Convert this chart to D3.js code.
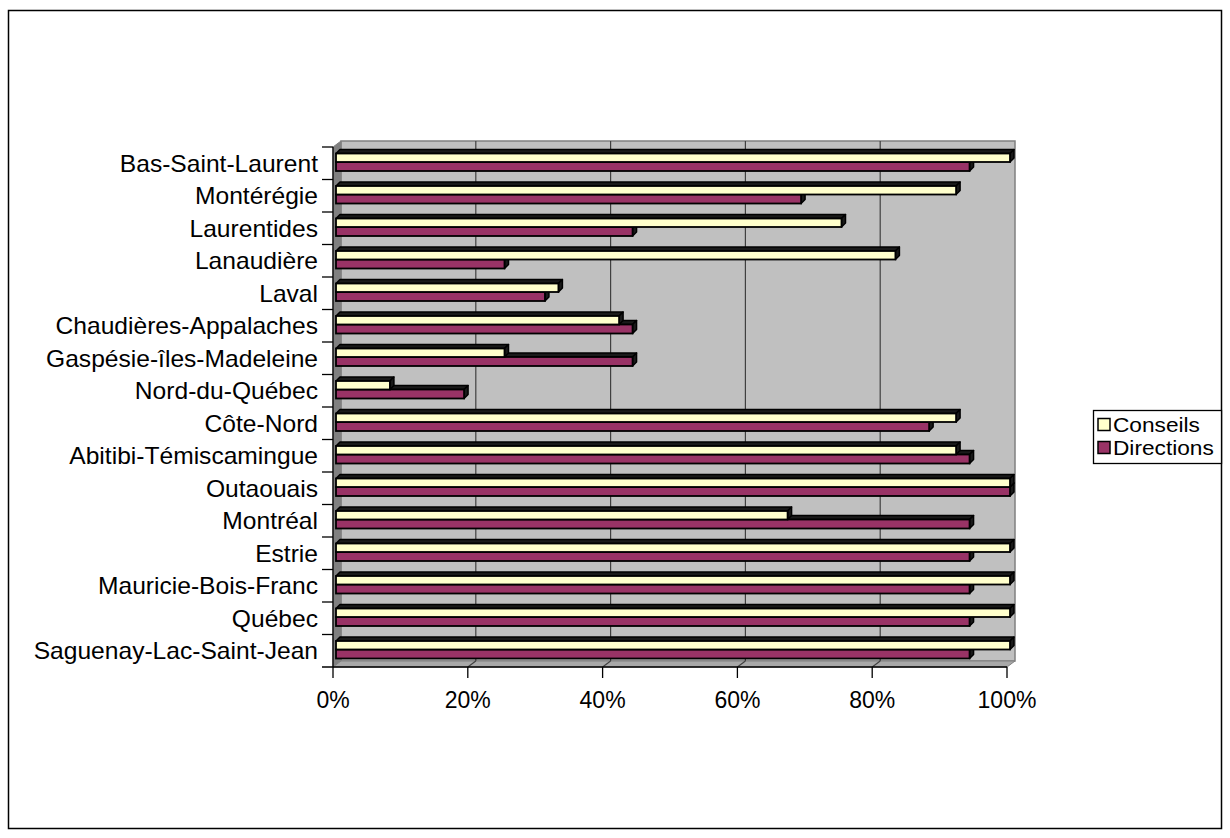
<!DOCTYPE html>
<html>
<head>
<meta charset="utf-8">
<script src="https://cdn.jsdelivr.net/npm/d3@7"></script>
<style>
  html, body { margin: 0; padding: 0; background: #fff; }
  svg { display: block; }
  text { font-family: "Liberation Sans", Arial, sans-serif; fill: #000; }
</style>
</head>
<body>
<div id="chart"></div>
<script>
(function () {
  "use strict";

  var regions = [
    "Bas-Saint-Laurent", "Montérégie", "Laurentides", "Lanaudière", "Laval",
    "Chaudières-Appalaches", "Gaspésie-îles-Madeleine", "Nord-du-Québec",
    "Côte-Nord", "Abitibi-Témiscamingue", "Outaouais", "Montréal", "Estrie",
    "Mauricie-Bois-Franc", "Québec", "Saguenay-Lac-Saint-Jean"
  ];
  var conseils = [100, 92, 75, 83, 33, 42, 25, 8, 92, 92, 100, 67, 100, 100, 100, 100];
  var directions = [94, 69, 44, 25, 31, 44, 44, 19, 88, 94, 100, 94, 94, 94, 94, 94];
  var xTicks = [0, 20, 40, 60, 80, 100];
  var seriesNames = ["Conseils", "Directions"];
  var seriesColors = ["#FFFFCC", "#993366"];

  var W = 1230, H = 838;
  var front = { x0: 333, x1: 1007, y0: 147, y1: 667 };
  var dx = 8, dy = -6;        // wall depth
  var bdx = 4, bdy = -4;      // bar depth
  var stretch = 1.07;         // labels are a bit wider than plain Arial

  var svg = d3.select("#chart").append("svg")
    .attr("width", W).attr("height", H);

  // outer frame
  svg.append("rect")
    .attr("x", 8.5).attr("y", 10.5).attr("width", 1213).attr("height", 818)
    .attr("fill", "#fff").attr("stroke", "#000").attr("stroke-width", 1.5);

  var xFront = d3.scaleLinear().domain([0, 100]).range([front.x0, front.x1]);
  var xBack = d3.scaleLinear().domain([0, 100]).range([front.x0 + dx, front.x1 + dx]);
  var xBar = d3.scaleLinear().domain([0, 100]).range([336, 1010]);
  var y = d3.scaleBand().domain(regions).range([front.y0, front.y1]);

  function pts(a) { return a.map(function (p) { return p.join(","); }).join(" "); }

  // back wall
  svg.append("rect")
    .attr("x", front.x0 + dx).attr("y", front.y0 + dy)
    .attr("width", front.x1 - front.x0).attr("height", front.y1 - front.y0)
    .attr("fill", "#C0C0C0").attr("stroke", "#808080").attr("stroke-width", 1.5);

  // side wall
  svg.append("polygon")
    .attr("points", pts([[front.x0, front.y0], [front.x0 + dx, front.y0 + dy],
      [front.x0 + dx, front.y1 + dy], [front.x0, front.y1]]))
    .attr("fill", "#808080").attr("stroke", "#808080");

  // floor
  svg.append("polygon")
    .attr("points", pts([[front.x0, front.y1], [front.x0 + dx, front.y1 + dy],
      [front.x1 + dx, front.y1 + dy], [front.x1, front.y1]]))
    .attr("fill", "#A8A8A8").attr("stroke", "#808080");

  // gridlines
  var grid = svg.append("g").attr("stroke", "#404040").attr("stroke-width", 1.2);
  xTicks.slice(1, -1).forEach(function (t) {
    grid.append("line")
      .attr("x1", xBack(t)).attr("x2", xBack(t))
      .attr("y1", front.y0 + dy).attr("y2", front.y1 + dy);
    grid.append("line")
      .attr("x1", xBack(t)).attr("y1", front.y1 + dy)
      .attr("x2", xFront(t)).attr("y2", front.y1);
  });

  // bars: purple first, yellow drawn over its top face
  var bars = svg.append("g");
  regions.forEach(function (r, i) {
    var b = y(r);
    var rows = [
      { v: directions[i], top: b + 15, bot: b + 24, c: seriesColors[1] },
      { v: conseils[i], top: b + 6.5, bot: b + 15, c: seriesColors[0] }
    ];
    rows.forEach(function (d) {
      var xa = xBar(0), xb = xBar(d.v);
      bars.append("polygon")
        .attr("points", pts([[xa, d.top], [xa + bdx, d.top + bdy], [xb + bdx, d.top + bdy], [xb, d.top]]))
        .attr("fill", "#1a1a1a").attr("stroke", "#000").attr("stroke-width", 1.5)
        .attr("stroke-linejoin", "round");
      bars.append("polygon")
        .attr("points", pts([[xb, d.top], [xb + bdx, d.top + bdy], [xb + bdx, d.bot + bdy], [xb, d.bot]]))
        .attr("fill", "#1a1a1a").attr("stroke", "#000").attr("stroke-width", 1.5)
        .attr("stroke-linejoin", "round");
      bars.append("rect")
        .attr("x", xa).attr("y", d.top).attr("width", xb - xa).attr("height", d.bot - d.top)
        .attr("fill", d.c).attr("stroke", "#000").attr("stroke-width", 1.8);
    });
  });

  // axes lines and ticks
  var ax = svg.append("g").attr("stroke", "#000").attr("stroke-width", 1.3);
  ax.append("line").attr("x1", front.x0).attr("x2", front.x0)
    .attr("y1", front.y0).attr("y2", front.y1 + 11);
  ax.append("line").attr("x1", front.x0 - 11).attr("x2", front.x1)
    .attr("y1", front.y1).attr("y2", front.y1);
  regions.forEach(function (r) {
    ax.append("line").attr("x1", front.x0 - 11).attr("x2", front.x0)
      .attr("y1", y(r)).attr("y2", y(r));
  });
  xTicks.slice(1).forEach(function (t) {
    ax.append("line").attr("x1", xFront(t)).attr("x2", xFront(t))
      .attr("y1", front.y1).attr("y2", front.y1 + 11);
  });

  // category labels
  svg.append("g").selectAll("text").data(regions).join("text")
    .attr("transform", function (d) {
      return "translate(318," + (y(d) + y.bandwidth() / 2) + ") scale(" + stretch + ",1)";
    })
    .attr("text-anchor", "end").attr("dy", "0.36em")
    .attr("font-size", 23)
    .text(function (d) { return d; });

  // value labels
  svg.append("g").selectAll("text").data(xTicks).join("text")
    .attr("x", function (d) { return xFront(d); })
    .attr("y", 708)
    .attr("text-anchor", "middle")
    .attr("font-size", 23)
    .text(function (d) { return d + "%"; });

  // legend
  var lg = svg.append("g");
  lg.append("rect").attr("x", 1093.5).attr("y", 410.5).attr("width", 128).attr("height", 53)
    .attr("fill", "#fff").attr("stroke", "#000").attr("stroke-width", 1.3);
  seriesNames.forEach(function (s, i) {
    var cy = 424.5 + i * 23;
    lg.append("rect").attr("x", 1098).attr("y", cy - 6).attr("width", 12).attr("height", 12)
      .attr("fill", seriesColors[i]).attr("stroke", "#000").attr("stroke-width", 1.5);
    lg.append("text")
      .attr("transform", "translate(1113," + cy + ") scale(1.08,1)")
      .attr("dy", "0.36em").attr("font-size", 21)
      .text(s);
  });
})();
</script>
</body>
</html>
